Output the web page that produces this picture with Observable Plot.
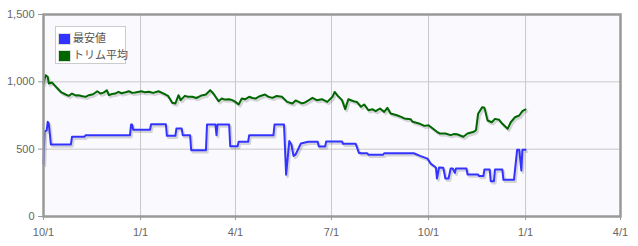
<!DOCTYPE html>
<html><head><meta charset="utf-8">
<script src="https://cdn.jsdelivr.net/npm/d3@7"></script>
<script src="https://cdn.jsdelivr.net/npm/@observablehq/plot@0.6"></script>
<style>
body{margin:0;background:#fff;}
#wrap{position:relative;width:638px;height:246px;}
#legend{position:absolute;left:55px;top:26px;width:69px;height:36px;border:1px solid #ccc;background:#fff;font-family:"Noto Sans CJK JP","Liberation Sans",sans-serif;font-size:11px;color:#555;}
#legend .row{position:absolute;left:2px;height:12px;line-height:12px;white-space:nowrap;}
#legend .sw{display:inline-block;width:11px;height:10px;vertical-align:middle;margin-right:2px;border:1px solid #ddd;}
</style>
</head><body>
<div id="wrap"></div>
<script>
const seriesNames = ["最安値", "トリム平均"];
const seriesColors = ["#3333ff", "#006600"];
const xTickDates = ["2013-10-01","2014-01-01","2014-04-01","2014-07-01","2014-10-01","2015-01-01","2015-04-01"];
const yTicks = [0, 500, 1000, 1500];

const minDates = ["2013-10-01","2013-10-02","2013-10-04","2013-10-05","2013-10-06","2013-10-08","2013-10-27","2013-10-28","2013-11-09","2013-11-10","2013-12-22","2013-12-23","2013-12-24","2013-12-25","2014-01-10","2014-01-11","2014-01-25","2014-01-26","2014-02-03","2014-02-04","2014-02-09","2014-02-10","2014-02-17","2014-02-18","2014-03-04","2014-03-05","2014-03-13","2014-03-14","2014-03-15","2014-03-26","2014-03-27","2014-04-03","2014-04-04","2014-04-13","2014-04-14","2014-05-07","2014-05-08","2014-05-17","2014-05-19","2014-05-22","2014-05-24","2014-05-26","2014-05-28","2014-06-02","2014-06-09","2014-06-18","2014-06-19","2014-06-25","2014-06-26","2014-07-11","2014-07-12","2014-07-24","2014-07-27","2014-07-29","2014-08-04","2014-08-05","2014-08-19","2014-08-20","2014-09-17","2014-09-23","2014-09-30","2014-10-03","2014-10-08","2014-10-09","2014-10-11","2014-10-15","2014-10-17","2014-10-20","2014-10-22","2014-10-24","2014-10-26","2014-10-27","2014-11-06","2014-11-07","2014-11-17","2014-11-18","2014-11-22","2014-11-23","2014-11-28","2014-11-29","2014-12-02","2014-12-03","2014-12-10","2014-12-11","2014-12-21","2014-12-24","2014-12-26","2014-12-28","2014-12-29","2015-01-01"];
const minValues = [390,631,640,703,690,535,535,592,592,604,604,683,683,644,644,685,685,599,599,653,653,604,604,492,492,683,683,604,683,683,522,522,555,555,604,604,683,683,310,560,535,450,460,542,555,555,520,520,557,557,540,540,473,470,470,458,458,470,470,450,430,393,364,282,364,362,282,282,356,356,324,356,356,312,312,300,300,349,349,262,262,349,349,272,272,495,495,342,495,495];

const avgDates = ["2013-10-01","2013-10-03","2013-10-05","2013-10-06","2013-10-09","2013-10-12","2013-10-15","2013-10-18","2013-10-22","2013-10-25","2013-10-28","2013-11-01","2013-11-03","2013-11-07","2013-11-10","2013-11-13","2013-11-17","2013-11-21","2013-11-24","2013-11-27","2013-11-30","2013-12-02","2013-12-05","2013-12-08","2013-12-11","2013-12-14","2013-12-17","2013-12-21","2013-12-24","2013-12-27","2014-01-02","2014-01-05","2014-01-09","2014-01-13","2014-01-18","2014-01-23","2014-01-27","2014-01-31","2014-02-03","2014-02-06","2014-02-08","2014-02-12","2014-02-15","2014-02-19","2014-02-23","2014-02-27","2014-03-04","2014-03-08","2014-03-11","2014-03-16","2014-03-19","2014-03-22","2014-03-26","2014-03-29","2014-04-01","2014-04-04","2014-04-07","2014-04-10","2014-04-14","2014-04-17","2014-04-20","2014-04-24","2014-04-29","2014-05-02","2014-05-06","2014-05-10","2014-05-15","2014-05-20","2014-05-25","2014-05-28","2014-05-31","2014-06-03","2014-06-06","2014-06-10","2014-06-13","2014-06-17","2014-06-22","2014-06-27","2014-07-02","2014-07-04","2014-07-07","2014-07-11","2014-07-14","2014-07-17","2014-07-22","2014-07-25","2014-07-29","2014-08-01","2014-08-05","2014-08-09","2014-08-12","2014-08-16","2014-08-20","2014-08-23","2014-08-26","2014-09-01","2014-09-05","2014-09-08","2014-09-14","2014-09-16","2014-09-22","2014-09-27","2014-10-01","2014-10-05","2014-10-09","2014-10-12","2014-10-17","2014-10-22","2014-10-25","2014-10-28","2014-11-03","2014-11-07","2014-11-13","2014-11-15","2014-11-17","2014-11-21","2014-11-23","2014-11-26","2014-11-30","2014-12-03","2014-12-07","2014-12-10","2014-12-15","2014-12-18","2014-12-22","2014-12-26","2014-12-29","2015-01-01"];
const avgValues = [988,1049,1037,988,995,970,945,921,906,896,913,898,901,893,889,901,908,930,913,920,938,901,910,913,926,915,921,930,918,921,930,922,926,918,930,913,896,844,839,901,864,896,889,889,880,896,906,938,913,856,876,868,871,864,851,832,876,870,889,880,876,893,906,890,881,895,889,851,839,862,851,840,847,866,881,864,871,851,889,925,896,864,797,871,856,851,815,832,789,796,782,802,777,807,765,752,740,728,723,703,691,673,678,653,629,616,616,604,612,611,592,616,629,641,763,812,807,713,700,725,718,688,651,700,737,750,782,795];

const parse = d3.utcParse("%Y-%m-%d");
const minData = minDates.map((d, i) => ({date: parse(d), value: minValues[i]}));
const avgData = avgDates.map((d, i) => ({date: parse(d), value: avgValues[i]}));
const xTicks = xTickDates.map(parse);
const fmtY = d3.format(",");

const chart = Plot.plot({
  width: 638, height: 246,
  marginLeft: 43, marginRight: 18, marginTop: 14, marginBottom: 30,
  style: {fontFamily: "Arial, 'Liberation Sans', sans-serif", fontSize: "11px", color: "#666", background: "#fff"},
  x: {type: "utc", domain: [xTicks[0], xTicks[xTicks.length - 1]], label: null},
  y: {domain: [0, 1500], label: null},
  marks: [
    Plot.frame({fill: "#fafafe", stroke: "none"}),
    Plot.gridX(xTicks, {stroke: "#c8c8c8", strokeOpacity: 1}),
    Plot.gridY([500, 1000], {stroke: "#c8c8c8", strokeOpacity: 1}),
    Plot.axisX(xTicks, {tickFormat: d => `${d.getUTCMonth() + 1}/${d.getUTCDate()}`, tickSize: 4, tickPadding: 8, stroke: "#999", fill: "#666", label: null}),
    Plot.axisY(yTicks, {tickFormat: d => fmtY(d), tickSize: 5, tickPadding: 4, stroke: "#999", fill: "#666", label: null}),
    Plot.lineY(avgData, {x: "date", y: "value", stroke: "#000", strokeOpacity: 0.15, strokeWidth: 2.5, dx: 1.5, dy: 2}),
    Plot.lineY(minData, {x: "date", y: "value", stroke: "#000", strokeOpacity: 0.15, strokeWidth: 2.5, dx: 1.5, dy: 2}),
    Plot.lineY(avgData, {x: "date", y: "value", stroke: seriesColors[1], strokeWidth: 2}),
    Plot.lineY(minData, {x: "date", y: "value", stroke: seriesColors[0], strokeWidth: 2}),
    Plot.frame({stroke: "#999", strokeWidth: 2.5})
  ]
});
const wrap = document.getElementById("wrap");
wrap.appendChild(chart);
const legend = document.createElement("div");
legend.id = "legend";
seriesNames.forEach((name, i) => {
  const row = document.createElement("div");
  row.className = "row";
  row.style.top = (4 + i * 17) + "px";
  row.innerHTML = `<span class="sw" style="background:${seriesColors[i]}"></span>${name}`;
  legend.appendChild(row);
});
wrap.appendChild(legend);
</script>
</body></html>
